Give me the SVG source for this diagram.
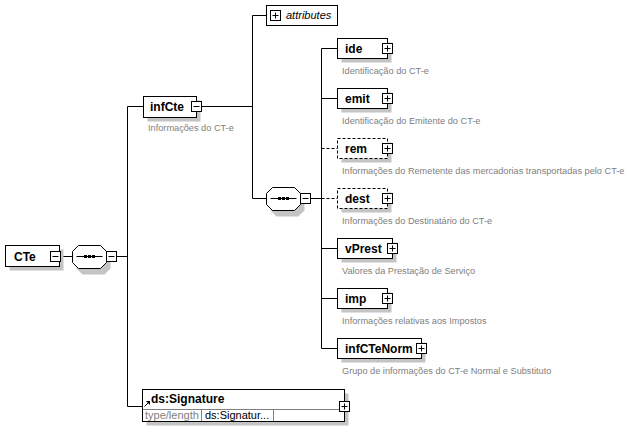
<svg xmlns="http://www.w3.org/2000/svg" width="640" height="440" viewBox="0 0 640 440">
<defs>
<style>
.box{fill:#fff;stroke:#000;stroke-width:1}
.dash{fill:#fff;stroke:#000;stroke-width:1;stroke-dasharray:3,2}
.sh{fill:#c4c4c4}
.ln{stroke:#000;stroke-width:1;fill:none}
.dl{stroke:#000;stroke-width:1;fill:none;stroke-dasharray:3,2}
.gl{stroke:#808080;stroke-width:1;fill:none}
.nm{font-family:"Liberation Sans",Arial,sans-serif;font-size:12px;font-weight:bold;fill:#000}
.ds{font-family:"Liberation Sans",Arial,sans-serif;font-size:9.2px;fill:#808080}
.at{font-family:"Liberation Sans",Arial,sans-serif;font-size:11px;font-style:italic;fill:#000}
.sm{font-family:"Liberation Sans",Arial,sans-serif;font-size:11px;fill:#000}
.smg{font-family:"Liberation Sans",Arial,sans-serif;font-size:11px;fill:#808080}
.btn{fill:#fff;stroke:#000;stroke-width:1}
</style>
<g id="plus"><rect class="btn" x="-5" y="-5" width="10" height="10"/><path class="ln" d="M-3,0H3M0,-3V3"/></g>
<g id="minus"><rect class="btn" x="-5" y="-5" width="10" height="10"/><path class="ln" d="M-3,0H3"/></g>
<g id="seq"><polygon class="sh" points="10,4 32,4 38,10 38,23 32,29 10,29 4,23 4,10"/><polygon class="box" points="6,0 28,0 34,6 34,17 28,23 6,23 0,17 0,6"/><path class="ln" d="M4,11H30"/><rect x="11.5" y="9.5" width="3" height="3" fill="#000"/><rect x="15.5" y="9.5" width="3" height="3" fill="#000"/><rect x="19.5" y="9.5" width="3" height="3" fill="#000"/></g>
</defs>
<rect width="640" height="440" fill="#fff"/>
<g id="connectors">
<path class="ln" d="M60.5,256.5H72.5M116.5,256.5H127.5M127.5,106.5V406.5M127.5,106.5H143.5M127.5,406.5H142.5"/>
<path class="ln" d="M201.5,106.5H252.5M252.5,15.5V198.5M252.5,15.5H266.5M252.5,198.5H266.5M310.5,198.5H321.5M321.5,48.5V348.5"/>
<path class="ln" d="M321.5,48.5H337.5M321.5,98.5H337.5M321.5,248.5H337.5M321.5,298.5H337.5M321.5,348.5H337.5"/>
<path class="dl" d="M321.5,148.5H337.5M321.5,198.5H337.5"/>
</g>
<g id="node-CTe">
<rect class="sh" x="9.5" y="249.5" width="54" height="21"/>
<rect class="box" x="5.5" y="245.5" width="54" height="21"/>
<text class="nm" x="14" y="261">CTe</text>
<use href="#minus" x="55.5" y="256.5"/>
</g>
<g id="node-seq1">
<use href="#seq" x="72.5" y="245.5"/>
<use href="#minus" x="111.5" y="256.5"/>
</g>
<g id="node-infCte">
<rect class="sh" x="147.5" y="100.5" width="53" height="21"/>
<rect class="box" x="143.5" y="96.5" width="53" height="21"/>
<text class="nm" x="150" y="111">infCte</text>
<use href="#minus" x="196.5" y="106.5"/>
<text class="ds" x="148" y="131">Informações do CT-e</text>
</g>
<g id="node-attributes">
<rect class="box" x="266.5" y="5.5" width="71" height="20"/>
<use href="#plus" x="275.5" y="15.5"/>
<text class="at" x="286" y="19">attributes</text>
</g>
<g id="node-seq2">
<use href="#seq" x="266.5" y="187.5"/>
<use href="#minus" x="305.5" y="198.5"/>
</g>
<g id="node-ide">
<rect class="sh" x="341.5" y="42.5" width="50" height="20"/>
<rect class="box" x="337.5" y="38.5" width="50" height="20"/>
<text class="nm" x="345" y="53">ide</text>
<use href="#plus" x="387.5" y="48.5"/>
<text class="ds" x="342" y="74">Identificação do CT-e</text>
</g>
<g id="node-emit">
<rect class="sh" x="341.5" y="92.5" width="50" height="20"/>
<rect class="box" x="337.5" y="88.5" width="50" height="20"/>
<text class="nm" x="345" y="103">emit</text>
<use href="#plus" x="387.5" y="98.5"/>
<text class="ds" x="342" y="124">Identificação do Emitente do CT-e</text>
</g>
<g id="node-rem">
<rect class="sh" x="341.5" y="142.5" width="50" height="20"/>
<rect class="dash" x="337.5" y="138.5" width="50" height="20"/>
<text class="nm" x="345" y="153">rem</text>
<use href="#plus" x="387.5" y="148.5"/>
<text class="ds" x="342" y="174">Informações do Remetente das mercadorias transportadas pelo CT-e</text>
</g>
<g id="node-dest">
<rect class="sh" x="341.5" y="192.5" width="50" height="20"/>
<rect class="dash" x="337.5" y="188.5" width="50" height="20"/>
<text class="nm" x="345" y="203">dest</text>
<use href="#plus" x="387.5" y="198.5"/>
<text class="ds" x="342" y="224">Informações do Destinatário do CT-e</text>
</g>
<g id="node-vPrest">
<rect class="sh" x="341.5" y="242.5" width="55" height="20"/>
<rect class="box" x="337.5" y="238.5" width="55" height="20"/>
<text class="nm" x="345" y="253">vPrest</text>
<use href="#plus" x="392.5" y="248.5"/>
<text class="ds" x="342" y="274">Valores da Prestação de Serviço</text>
</g>
<g id="node-imp">
<rect class="sh" x="341.5" y="292.5" width="50" height="20"/>
<rect class="box" x="337.5" y="288.5" width="50" height="20"/>
<text class="nm" x="345" y="303">imp</text>
<use href="#plus" x="387.5" y="298.5"/>
<text class="ds" x="342" y="324">Informações relativas aos Impostos</text>
</g>
<g id="node-infCTeNorm">
<rect class="sh" x="341.5" y="342.5" width="84" height="20"/>
<rect class="box" x="337.5" y="338.5" width="84" height="20"/>
<text class="nm" x="345" y="353">infCTeNorm</text>
<use href="#plus" x="421.5" y="348.5"/>
<text class="ds" x="342" y="374">Grupo de informações do CT-e Normal e Substituto</text>
</g>
<g id="node-Signature">
<rect class="sh" x="146.5" y="393.5" width="202" height="32"/>
<rect class="box" x="142.5" y="389.5" width="202" height="32"/>
<path class="gl" d="M143,409.5H344M201.5,410V421M273.5,410V421"/>
<path class="ln" d="M144.5,406.5L148.5,402.5"/>
<polygon points="146,401 150,401 150,405" fill="#000"/>
<text class="nm" x="151" y="403">ds:Signature</text>
<text class="smg" x="145" y="419">type/length</text>
<text class="sm" x="205" y="419">ds:Signatur...</text>
<use href="#plus" x="344.5" y="406.5"/>
</g>
</svg>
